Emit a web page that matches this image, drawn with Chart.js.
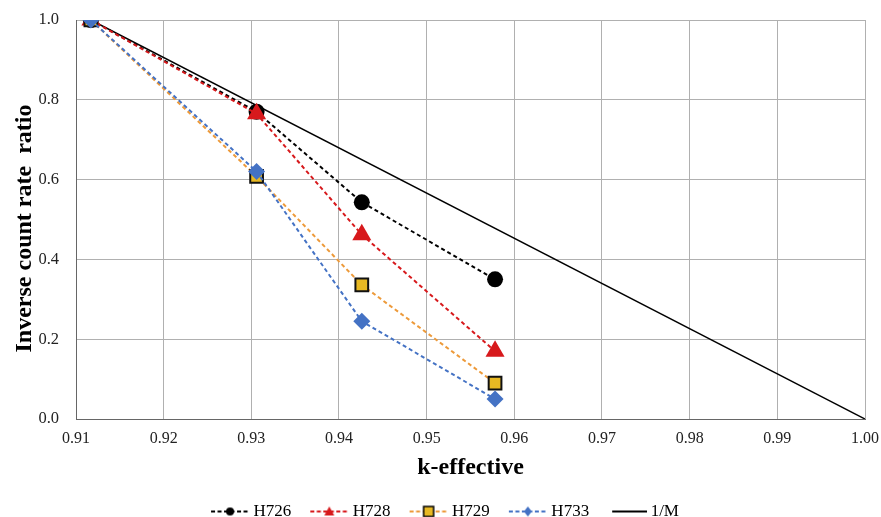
<!DOCTYPE html>
<html>
<head>
<meta charset="utf-8">
<script src="https://cdn.jsdelivr.net/npm/chart.js@4.4.0/dist/chart.umd.min.js"></script>
<style>
  html, body { margin: 0; padding: 0; background: #fff; }
  #wrap { width: 881px; height: 517px; }
</style>
</head>
<body>
<div id="wrap"><canvas id="chart" width="881" height="517"></canvas></div>
<script>
// data
const kEff = [0.9117, 0.9306, 0.9426, 0.9578];
const h726 = [1.0, 0.770, 0.543, 0.350];
const h728 = [1.0, 0.765, 0.462, 0.170];
const h729 = [1.0, 0.608, 0.336, 0.090];
const h733 = [1.0, 0.620, 0.245, 0.050];
const invMk = [0.9117, 1.0];
const invM = [1.0, 0.0];

const seriesNames = ['H726', 'H728', 'H729', 'H733', '1/M'];
const FONT = "'Liberation Serif', 'Times New Roman', serif";

const pts = (xs, ys) => xs.map((x, i) => ({x: x, y: ys[i]}));

// legend symbol: dashed line with the marker in the middle
// canvas is 60 wide, visible part is drawn on its right 40px
function legendIcon(color, dashed, drawMarker, x0) {
  const c = document.createElement('canvas');
  c.width = 60; c.height = 16;
  const g = c.getContext('2d');
  g.strokeStyle = color;
  g.lineWidth = 2;
  if (dashed) g.setLineDash([4, 2.5]);
  g.beginPath(); g.moveTo(x0 || 21, 8); g.lineTo(60, 8); g.stroke();
  g.setLineDash([]);
  if (drawMarker) drawMarker(g, 40, 8);
  return c;
}

const icons = [
  legendIcon('#000', true, (g, x, y) => {
    g.fillStyle = '#000'; g.beginPath(); g.arc(x, y, 4, 0, Math.PI * 2); g.fill();
  }),
  legendIcon('#d7191c', true, (g, x, y) => {
    g.fillStyle = '#d7191c'; g.beginPath();
    g.moveTo(x, y - 5); g.lineTo(x + 5, y + 4); g.lineTo(x - 5, y + 4); g.closePath(); g.fill();
  }),
  legendIcon('#ed9a3a', true, (g, x, y) => {
    g.fillStyle = '#e8b923'; g.strokeStyle = '#000'; g.lineWidth = 1.5;
    g.fillRect(x - 5, y - 5, 10, 10); g.strokeRect(x - 5, y - 5, 10, 10);
  }),
  legendIcon('#4472c4', true, (g, x, y) => {
    g.fillStyle = '#4472c4'; g.beginPath();
    g.moveTo(x, y - 5); g.lineTo(x + 4, y); g.lineTo(x, y + 5); g.lineTo(x - 4, y); g.closePath(); g.fill();
  }),
  legendIcon('#000', false, null, 25)
];

const chart = new Chart(document.getElementById('chart'), {
  type: 'line',
  data: {
    datasets: [
      {
        label: seriesNames[0], data: pts(kEff, h726), order: 4,
        borderColor: '#000', backgroundColor: '#000', borderWidth: 2, borderDash: [4, 3],
        pointStyle: 'circle', pointRadius: 8, pointBackgroundColor: '#000', pointBorderColor: '#000', pointBorderWidth: 0
      },
      {
        label: seriesNames[1], data: pts(kEff, h728), order: 3,
        borderColor: '#d7191c', backgroundColor: '#d7191c', borderWidth: 2, borderDash: [4, 3],
        pointStyle: 'triangle', pointRadius: 11, pointBackgroundColor: '#d7191c', pointBorderColor: '#d7191c', pointBorderWidth: 0
      },
      {
        label: seriesNames[2], data: pts(kEff, h729), order: 2,
        borderColor: '#ed9a3a', backgroundColor: '#e8b923', borderWidth: 2, borderDash: [4, 3],
        pointStyle: 'rect', pointRadius: 9, pointBackgroundColor: '#e8b923', pointBorderColor: '#111', pointBorderWidth: 2
      },
      {
        label: seriesNames[3], data: pts(kEff, h733), order: 1,
        borderColor: '#4472c4', backgroundColor: '#4472c4', borderWidth: 2, borderDash: [4, 3],
        pointStyle: 'rectRot', pointRadius: 8.5, pointBackgroundColor: '#4472c4', pointBorderColor: '#4472c4', pointBorderWidth: 0
      },
      {
        label: seriesNames[4], data: pts(invMk, invM), order: 5,
        borderColor: '#000', backgroundColor: '#000', borderWidth: 1.5, pointRadius: 0
      }
    ]
  },
  options: {
    responsive: false,
    animation: false,
    layout: { padding: { left: 10, right: 0, top: 20, bottom: -13 } },
    plugins: {
      tooltip: { enabled: false },
      legend: {
        position: 'bottom',
        labels: {
          usePointStyle: true,
          pointStyleWidth: 50,
          padding: 3,
          color: '#000',
          font: { family: FONT, size: 17 },
          // trailing spaces on the last item nudge the centred row a bit left
          generateLabels: (ch) => seriesNames.map((name, i) => ({
            text: i === seriesNames.length - 1 ? name + '    ' : name,
            pointStyle: icons[i],
            datasetIndex: i,
            fontColor: '#000',
            lineWidth: 0,
            strokeStyle: 'transparent',
            fillStyle: 'transparent'
          }))
        }
      }
    },
    scales: {
      x: {
        type: 'linear',
        min: 0.91, max: 1.0,
        grid: { color: '#b0b0b0', lineWidth: 1, drawTicks: false },
        border: { color: '#666', width: 1 },
        ticks: {
          stepSize: 0.01, padding: 10, color: '#222',
          font: { family: FONT, size: 16 },
          callback: (v) => v.toFixed(2)
        },
        title: {
          display: true, text: 'k-effective', color: '#000',
          font: { family: FONT, size: 24, weight: 'bold' },
          padding: { top: -5, bottom: 18 }
        },
        afterFit: (s) => { s.paddingRight = 16; s.paddingLeft = 0; }
      },
      y: {
        min: 0, max: 1.0,
        grid: { color: '#b0b0b0', lineWidth: 1, drawTicks: false },
        border: { color: '#666', width: 1 },
        ticks: {
          stepSize: 0.2, padding: 17, color: '#222',
          font: { family: FONT, size: 16.5 },
          callback: (v) => v.toFixed(1)
        },
        title: {
          display: true, text: 'Inverse count rate  ratio   ', color: '#000',
          font: { family: FONT, size: 24, weight: 'bold' },
          padding: { top: 0, bottom: 0 }
        },
        afterFit: (s) => { s.width = 66; s.paddingTop = 0; s.paddingBottom = 0; }
      }
    }
  }
});
</script>
</body>
</html>
